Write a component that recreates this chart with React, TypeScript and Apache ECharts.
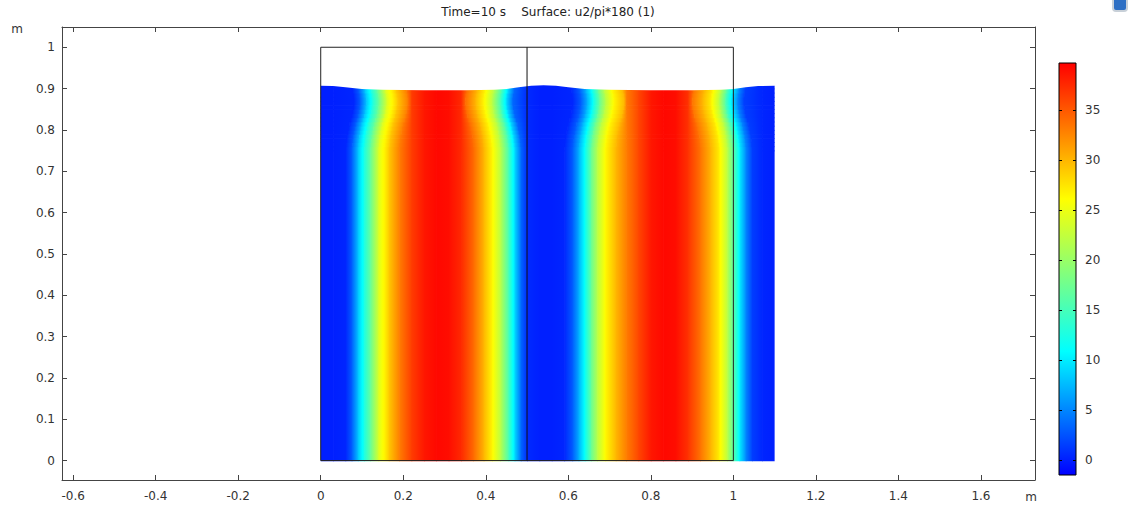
import React, { useEffect, useRef } from "react";
import * as echarts from "echarts";

// ---- tick labels ----
const xTicks = [-0.6, -0.4, -0.2, 0, 0.2, 0.4, 0.6, 0.8, 1, 1.2, 1.4, 1.6];
const yTicks = [0, 0.1, 0.2, 0.3, 0.4, 0.5, 0.6, 0.7, 0.8, 0.9, 1];
const colorTicks = [0, 5, 10, 15, 20, 25, 30, 35];
const colorMin = -1.5;
const colorMax = 39.7;

const titleText = "Time=10 s\u00a0\u00a0\u00a0\u00a0Surface: u2/pi*180 (1)";

// ---- field samples (x positions, m) ----
const xStops = [
  0, 0.03, 0.06, 0.075, 0.09, 0.105, 0.12, 0.14, 0.165, 0.19, 0.22, 0.25, 0.28, 0.31, 0.34, 0.37,
  0.395, 0.415, 0.435, 0.455, 0.47, 0.485, 0.5, 0.53, 0.56, 0.59, 0.61, 0.625, 0.64, 0.655, 0.67,
  0.69, 0.715, 0.74, 0.77, 0.8, 0.83, 0.86, 0.89, 0.92, 0.945, 0.965, 0.985, 1.0, 1.015, 1.03,
  1.045, 1.07, 1.1,
];
// values (degrees) across the liquid body
const bodyVals = [
  0, 0, 0.3, 3, 8, 12.5, 17, 24, 29, 33, 36.5, 38.5, 39.3, 39, 37.5, 34,
  30, 26.5, 22, 15, 9, 3.5, 0.5, 0, 0, 0.3, 3, 7, 11.5, 17, 22,
  26.5, 30, 33, 36, 38.5, 39.3, 39, 37, 33.5, 30, 27, 22, 16, 10, 5,
  1.5, 0.3, 0,
];
// which stops belong to a rising (+1) or falling (-1) flank; flanks pinch in near the surface
const edgeDir = [
  0, 0, 1, 1, 1, 1, 1, 1, 1, 1, 0, 0, 0, 0, 0, -1,
  -1, -1, -1, -1, -1, -1, 0, 0, 0, 1, 1, 1, 1, 1, 1,
  1, 1, 0, 0, 0, 0, 0, 0, -1, -1, -1, -1, -1, -1, -1,
  -1, 0, 0,
];
// horizontal displacement of the flanks near the free surface (m), per row
const rowLow = [0.75, 0.76, 0.77, 0.78, 0.79, 0.8, 0.81, 0.82, 0.83, 0.84, 0.85, 0.86, 0.87, 0.88, 0.89, 0.9, 0.91, 0.92];
const rowShift = [0, 0.001, 0.002, 0.003, 0.005, 0.007, 0.009, 0.012, 0.015, 0.017, 0.019, 0.02, 0.02, 0.019, 0.017, 0.016, 0.015, 0.015];
const rowHeight = 0.01;

// free surface height
const surfX = [0, 0.03, 0.06, 0.1, 0.15, 0.25, 0.35, 0.42, 0.45, 0.48, 0.51, 0.54, 0.57, 0.6, 0.64, 0.7, 0.8, 0.9, 0.97, 1.0, 1.03, 1.06, 1.1];
const surfY = [0.907, 0.906, 0.903, 0.899, 0.897, 0.896, 0.896, 0.897, 0.899, 0.903, 0.907, 0.908, 0.907, 0.903, 0.899, 0.897, 0.896, 0.896, 0.897, 0.899, 0.903, 0.906, 0.907];

// geometry outline
const frameOuter = [[0, 0], [0, 1], [1, 1], [1, 0], [0, 0]];
const frameDivider = [[0.5, 0], [0.5, 1]];

const palette: [number, number[]][] = [
  [0, [0, 0, 255]],
  [0.3, [0, 255, 255]],
  [0.67, [255, 255, 0]],
  [1, [255, 0, 0]],
];

function colorOf(v: number): string {
  let t = (v - colorMin) / (colorMax - colorMin);
  t = Math.max(0, Math.min(1, t));
  for (let i = 0; i < palette.length - 1; i++) {
    const [a, ca] = palette[i];
    const [b, cb] = palette[i + 1];
    if (t <= b) {
      const f = (t - a) / (b - a);
      const c = ca.map((x, k) => Math.round(x + (cb[k] - x) * f));
      return `rgb(${c[0]},${c[1]},${c[2]})`;
    }
  }
  return "rgb(255,0,0)";
}

const FONT = "DejaVu Sans";
const fmt = (v: number) => String(Math.round(v * 10) / 10);

export default function App() {
  const ref = useRef<HTMLDivElement>(null);
  useEffect(() => {
    if (!ref.current) return;
    const chart = echarts.init(ref.current, undefined, { renderer: "svg" });

    const fieldData: number[][] = [];
    const pushRow = (y0: number, y1: number, shift: number) => {
      const xs = xStops.map((x, i) => x + edgeDir[i] * shift);
      for (let i = 0; i < xs.length - 1; i++) {
        fieldData.push([xs[i], xs[i + 1], y0, y1, bodyVals[i], bodyVals[i + 1]]);
      }
    };
    pushRow(0, rowLow[0], 0);
    rowLow.forEach((y, r) => pushRow(y, y + rowHeight, rowShift[r]));

    const axisLineStyle = { color: "#444", width: 1 };
    const labelStyle = { color: "#333", fontSize: 12, fontFamily: FONT };

    const option: any = {
      animation: false,
      backgroundColor: "#fff",
      grid: [
        { left: 62, right: 94, top: 27, bottom: 31, containLabel: false, outerBoundsMode: "none" },
        { left: 1059, width: 17, top: 63, height: 412, containLabel: false, outerBoundsMode: "none" },
      ],
      xAxis: [
        {
          gridIndex: 0, type: "value", min: -0.627, max: 1.731, position: "bottom",
          axisLine: { onZero: false, lineStyle: axisLineStyle },
          axisTick: { inside: true, length: 5, customValues: xTicks, lineStyle: axisLineStyle },
          axisLabel: { customValues: xTicks, formatter: fmt, margin: 10, ...labelStyle },
          splitLine: { show: false },
        },
        {
          gridIndex: 0, type: "value", min: -0.627, max: 1.731, position: "top",
          axisLine: { onZero: false, lineStyle: axisLineStyle },
          axisTick: { inside: true, length: 5, customValues: xTicks, lineStyle: axisLineStyle },
          axisLabel: { show: false },
          splitLine: { show: false },
        },
        { gridIndex: 1, type: "value", min: 0, max: 1, show: false },
      ],
      yAxis: [
        {
          gridIndex: 0, type: "value", min: -0.047, max: 1.049, position: "left",
          axisLine: { show: true, onZero: false, lineStyle: axisLineStyle },
          axisTick: { show: true, inside: true, length: 5, customValues: yTicks, lineStyle: axisLineStyle },
          axisLabel: { customValues: yTicks, formatter: fmt, margin: 7, ...labelStyle },
          splitLine: { show: false },
        },
        {
          gridIndex: 0, type: "value", min: -0.047, max: 1.049, position: "right",
          axisLine: { show: true, onZero: false, lineStyle: axisLineStyle },
          axisTick: { show: true, inside: true, length: 5, customValues: yTicks, lineStyle: axisLineStyle },
          axisLabel: { show: false },
          splitLine: { show: false },
        },
        {
          gridIndex: 1, type: "value", min: colorMin, max: colorMax, position: "left",
          axisLine: { show: false },
          axisTick: { show: true, inside: true, length: 3, customValues: colorTicks, lineStyle: { color: "#000" } },
          axisLabel: { show: false },
          splitLine: { show: false },
          z: 5,
        },
        {
          gridIndex: 1, type: "value", min: colorMin, max: colorMax, position: "right",
          axisLine: { show: false },
          axisTick: { show: true, inside: true, length: 3, customValues: colorTicks, lineStyle: { color: "#000" } },
          axisLabel: { customValues: colorTicks, margin: 9, ...labelStyle },
          splitLine: { show: false },
          z: 5,
        },
      ],
      series: [
        {
          type: "custom",
          name: "field",
          xAxisIndex: 0,
          yAxisIndex: 0,
          silent: true,
          z: 1,
          dimensions: ["x0", "x1", "y0", "y1", "v0", "v1"],
          encode: { x: [0, 1], y: [2, 3] },
          data: fieldData,
          renderItem: (_p: any, api: any) => {
            const x0 = api.value(0), x1 = api.value(1), y0 = api.value(2), y1 = api.value(3);
            const v0 = api.value(4), v1 = api.value(5);
            const pA = api.coord([x0, y0]);
            const pB = api.coord([x1, y1]);
            const stops = [];
            for (let k = 0; k <= 6; k++) {
              const t = k / 6;
              stops.push({ offset: t, color: colorOf(v0 + (v1 - v0) * t) });
            }
            const last = x1 >= 1.1;
            return {
              type: "rect",
              shape: { x: pA[0], y: pB[1], width: pB[0] - pA[0] + (last ? 0 : 0.7), height: pA[1] - pB[1] + 0.7 },
              style: { fill: new echarts.graphic.LinearGradient(0, 0, 1, 0, stops), stroke: null },
            };
          },
        },
        {
          type: "custom",
          name: "surface",
          xAxisIndex: 0,
          yAxisIndex: 0,
          silent: true,
          z: 2,
          data: [[0, 0.95]],
          encode: { x: 0, y: 1 },
          renderItem: (_p: any, api: any) => {
            const pts = surfX.map((x, i) => api.coord([x, surfY[i]]));
            pts.push(api.coord([1.102, surfY[surfY.length - 1]]));
            pts.push(api.coord([1.102, 0.96]));
            pts.push(api.coord([-0.002, 0.96]));
            pts.push(api.coord([-0.002, surfY[0]]));
            return { type: "polygon", shape: { points: pts }, style: { fill: "#fff", stroke: null } };
          },
        },
        {
          type: "line",
          xAxisIndex: 0,
          yAxisIndex: 0,
          data: frameOuter,
          symbol: "none",
          silent: true,
          z: 3,
          lineStyle: { color: "#222", width: 1 },
        },
        {
          type: "line",
          xAxisIndex: 0,
          yAxisIndex: 0,
          data: frameDivider,
          symbol: "none",
          silent: true,
          z: 3,
          lineStyle: { color: "#111", width: 1 },
        },
        {
          type: "custom",
          name: "colorbar",
          xAxisIndex: 2,
          yAxisIndex: 2,
          silent: true,
          z: 2,
          data: [[0, colorMin, 1, colorMax]],
          encode: { x: [0, 2], y: [1, 3] },
          renderItem: (_p: any, api: any) => {
            const pA = api.coord([api.value(0), api.value(1)]);
            const pB = api.coord([api.value(2), api.value(3)]);
            return {
              type: "rect",
              shape: { x: pA[0], y: pB[1], width: pB[0] - pA[0], height: pA[1] - pB[1] },
              style: {
                fill: new echarts.graphic.LinearGradient(0, 1, 0, 0,
                  palette.map(([o, c]) => ({ offset: o, color: `rgb(${c[0]},${c[1]},${c[2]})` }))),
                stroke: "#000",
                lineWidth: 1,
              },
            };
          },
        },
      ],
      graphic: [
        {
          type: "text", x: 548, y: 12,
          style: { text: titleText, fill: "#222", fontSize: 12, fontFamily: FONT, align: "center", verticalAlign: "middle" },
        },
        {
          type: "text", x: 17, y: 29,
          style: { text: "m", fill: "#333", fontSize: 12, fontFamily: FONT, align: "center", verticalAlign: "middle" },
        },
        {
          type: "text", x: 1031, y: 497,
          style: { text: "m", fill: "#333", fontSize: 12, fontFamily: FONT, align: "center", verticalAlign: "middle" },
        },
        {
          type: "rect", x: 1113, y: -3, shape: { width: 14, height: 14, r: 3 },
          style: { fill: "#2d6fc4", stroke: "#c8d0d8", lineWidth: 2 },
        },
      ],
    };

    chart.setOption(option);
    return () => chart.dispose();
  }, []);

  return (
    <div
      ref={ref}
      style={{ position: "fixed", left: 0, top: 0, width: 1129, height: 511, background: "#fff" }}
    />
  );
}
